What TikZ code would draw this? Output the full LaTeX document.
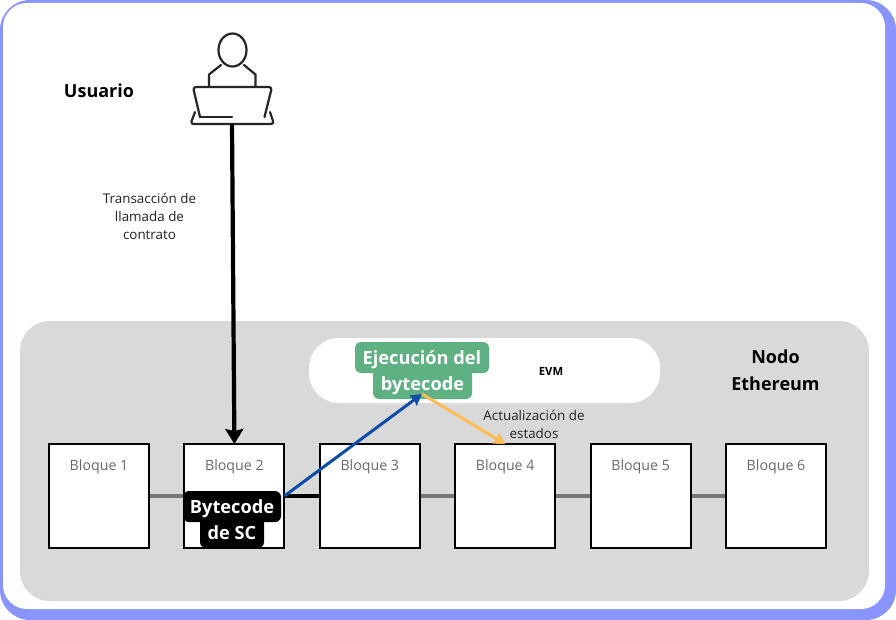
\documentclass[tikz,border=0pt]{standalone}
\usepackage{fontspec}
\setmainfont{Open Sans}
\usetikzlibrary{positioning,arrows.meta}
\definecolor{marco}{HTML}{8A94FF}
\definecolor{panel}{HTML}{D9D9D9}
\definecolor{verde}{HTML}{5FB183}
\definecolor{azul}{HTML}{0B4DA8}
\definecolor{naranja}{HTML}{FFBB55}
\definecolor{cadena}{HTML}{767676}
\definecolor{gris}{HTML}{6A6A6A}
\definecolor{texto}{HTML}{222222}
\tikzset{
  bloque/.style={draw=black, line width=2pt, fill=white, minimum width=100pt, minimum height=104pt, outer sep=0pt, inner sep=0pt},
  nombre/.style={text=gris, font=\fontsize{14.2}{14}\selectfont, inner sep=0pt},
  enlace/.style={line width=4.5pt, cadena},
  flecha/.style={line width=4.2pt, -{Stealth[length=15pt,width=18pt,inset=2pt]}},
  nota/.style={text=texto, align=center, font=\fontsize{13.4}{18}\selectfont, inner sep=0pt},
  titulo/.style={text=black, align=center, font=\bfseries\fontsize{18}{27}\selectfont, inner sep=0pt},
  etiqueta/.style={text=white, rounded corners=6pt, inner sep=0pt, text height=14pt, text depth=0pt, font=\bfseries\fontsize{18.2}{18}\selectfont},
  icono/.style={line width=2.2pt, black!85, line join=round, line cap=round}
}
\begin{document}
\begin{tikzpicture}[x=1pt, y=-1pt]
  \useasboundingbox (0,0) rectangle (896,620);
  \fill [marco, rounded corners=30pt] (0,0) rectangle (896,620);
  \fill [white, rounded corners=24pt] (3,3) rectangle (885,609);
  \fill [panel, rounded corners=30pt] (20,321) rectangle (869,601);
  \fill [white, rounded corners=30pt] (309,338) rectangle (660,403);

  % usuario
  \draw [icono] (232.5,50) ellipse [x radius=14pt, y radius=16.5pt];
  \draw [icono] (221,65) -- (209,74.5) -- (209,86);
  \draw [icono] (244,65) -- (255.5,74.5) -- (255.5,86);
  \draw [icono, rounded corners=3pt] (200,117) -- (193,87) -- (272,87) -- (264.5,117);
  \draw [icono] (200,117) -- (232,117);
  \draw [icono, rounded corners=3pt] (195,112) -- (190.5,124) -- (274,124) -- (270,112);
  \coordinate (laptop) at (232,124);

  % bloques
  \node (b1) [bloque, anchor=north west] at (49,444) {};
  \node (b2) [bloque, right=35.4pt of b1] {};
  \node (b3) [bloque, right=35.4pt of b2] {};
  \node (b4) [bloque, right=35.4pt of b3] {};
  \node (b5) [bloque, right=35.4pt of b4] {};
  \node (b6) [bloque, right=35.4pt of b5] {};
  \foreach \n in {1,...,6}
    \node (t\n) [nombre, below=15.5pt of b\n.north] {Bloque \n};

  \draw [enlace] (b1) -- (b2);
  \draw [enlace, black] (b2) -- (b3);
  \draw [enlace] (b3) -- (b4);
  \draw [enlace] (b4) -- (b5);
  \draw [enlace] (b5) -- (b6);
  \foreach \n in {1,...,6}
    \draw [line width=2pt] (b\n.north west) rectangle (b\n.south east);

  % textos
  \node (usuario) [titulo] at (99,91) {Usuario};
  \node (llamada) [nota] at (149.5,216) {Transacción de\\llamada de\\contrato};
  \node (nodo) [titulo] at (775.5,370.5) {Nodo\\Ethereum};
  \node (evm) [text=black, font=\bfseries\fontsize{11.3}{11}\selectfont, inner sep=0pt] at (551,371.5) {EVM};
  \node (estados) [nota] at (534,424) {Actualización de\\estados};

  % etiquetas de dos renglones
  \node (ejec1) [etiqueta, fill=verde, minimum width=134pt, minimum height=31pt] at (422,357.5) {Ejecución del};
  \node (ejec2) [etiqueta, fill=verde, minimum width=99pt, minimum height=31pt] at (422.5,383.5) {bytecode};
  \node (byte1) [etiqueta, fill=black, minimum width=98pt, minimum height=31pt] at (232,506.5) {Bytecode};
  \node (byte2) [etiqueta, fill=black, minimum width=64pt, minimum height=31pt] at (232,532.5) {de SC};
  \coordinate (ejecuta) at (422,394);

  \draw [flecha] (laptop) -- (b2.north);
  \draw [azul, line width=3pt, -{Stealth[length=11pt,width=12pt,inset=1pt]}] (b2.east) -- (ejecuta);
  \draw [naranja, line width=3pt, -{Stealth[length=11pt,width=12pt,inset=1pt]}] (ejecuta) -- (b4.north);
\end{tikzpicture}
\end{document}
